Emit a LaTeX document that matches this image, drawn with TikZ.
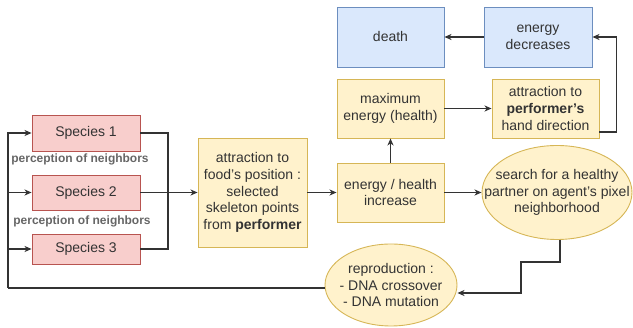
\documentclass[tikz,border=0pt]{standalone}
\usepackage{fontspec}
\setmainfont{Liberation Sans}
\usetikzlibrary{arrows.meta,shapes.geometric}
\definecolor{txt}{HTML}{333333}
\definecolor{redf}{HTML}{F8CECC}\definecolor{redd}{HTML}{B85450}
\definecolor{yelf}{HTML}{FFF2CC}\definecolor{yeld}{HTML}{D6B656}
\definecolor{bluf}{HTML}{DAE8FC}\definecolor{blud}{HTML}{6C8EBF}
\definecolor{lbl}{HTML}{666666}
\tikzset{
  base/.style={font=\fontsize{14}{16.8}\selectfont, text=txt, align=center, inner sep=0pt, line width=0.9pt},
  redbox/.style={base, draw=redd, fill=redf, rectangle},
  yelbox/.style={base, draw=yeld, fill=yelf, rectangle},
  blubox/.style={base, draw=blud, fill=bluf, rectangle},
  yelell/.style={base, draw=yeld, fill=yelf, ellipse},
  etext/.style={font=\fontsize{14}{16.8}\selectfont, text=txt, align=center, inner sep=0pt},
  lab/.style={font=\fontsize{12}{14}\selectfont\bfseries, text=lbl, inner sep=0pt},
  conn/.style={draw=txt, line width=1.2pt},
  arr/.style={conn, -{Stealth[length=7pt,width=6pt,inset=2pt]}},
}
\begin{document}
\begin{tikzpicture}[x=1pt,y=-1pt]
\useasboundingbox (0,0) rectangle (633,328);
\node[redbox, minimum width=108pt, minimum height=36pt] (sp1) at (86,133) {Species 1};
\node[redbox, minimum width=108pt, minimum height=35pt] (sp2) at (86,192.5) {Species 2};
\node[redbox, minimum width=108pt, minimum height=30pt] (sp3) at (86,249) {Species 3};
\node[lab] (l1) at (80,159) {perception of neighbors};
\node[lab] (l2) at (82,221) {perception of neighbors};
\node[yelbox, minimum width=109pt, minimum height=109pt] (food) at (252.5,192.5) {attraction to\\food's position :\\selected\\skeleton points\\from \textbf{performer}};
\node[yelbox, minimum width=107pt, minimum height=59pt] (inc) at (390.5,192.5) {energy / health\\increase};
\node[yelbox, minimum width=107pt, minimum height=59pt] (maxe) at (390.5,108.5) {maximum\\energy (health)};
\node[blubox, minimum width=107pt, minimum height=60pt] (death) at (390.5,37) {death};
\node[blubox, minimum width=108pt, minimum height=60pt] (dec) at (538,37) {energy\\decreases};
\node[yelbox, minimum width=107pt, minimum height=59pt] (attr) at (545.5,108.5) {attraction to\\\textbf{performer's}\\hand direction};
\node[yelell, minimum width=150pt, minimum height=94pt] (search) at (557,192.5) {};
\node[etext] (searcht) at (search.center) {search for a healthy\\partner on agent's pixel\\neighborhood};
\node[yelell, minimum width=132pt, minimum height=82pt] (repro) at (391,285) {};
\node[etext] (reprot) at (repro.center) {reproduction :\\- DNA crossover\\- DNA mutation};
\coordinate (mr) at (168,133);
\coordinate (lb) at (8,288);
% species merge
\draw[conn] (sp1.east) -- (mr) |- (sp3.east);
\draw[arr] (sp2.east) -- (food.west);
\draw[arr] (food.east) -- (inc.west);
\draw[arr] (inc.north) -- (maxe.south);
\draw[arr] (maxe.east) -- (attr.west);
\draw[arr] ([yshift=-23.5pt]attr.east) -- ++(17,0) |- (dec.east);
\draw[arr] (dec.west) -- (death.east);
\draw[arr] (inc.east) -- (search.west);
\draw[arr] ([xshift=3pt]search.south) -- ++(0,22) -| (521,293) -- (repro.east |- 0,293);
\draw[conn] (repro.west |- 0,288) -- (lb);
\draw[arr] (lb) |- (sp1.west);
\draw[arr] (8,192.5) -- (sp2.west);
\draw[arr] (8,249) -- (sp3.west);
\end{tikzpicture}
\end{document}
